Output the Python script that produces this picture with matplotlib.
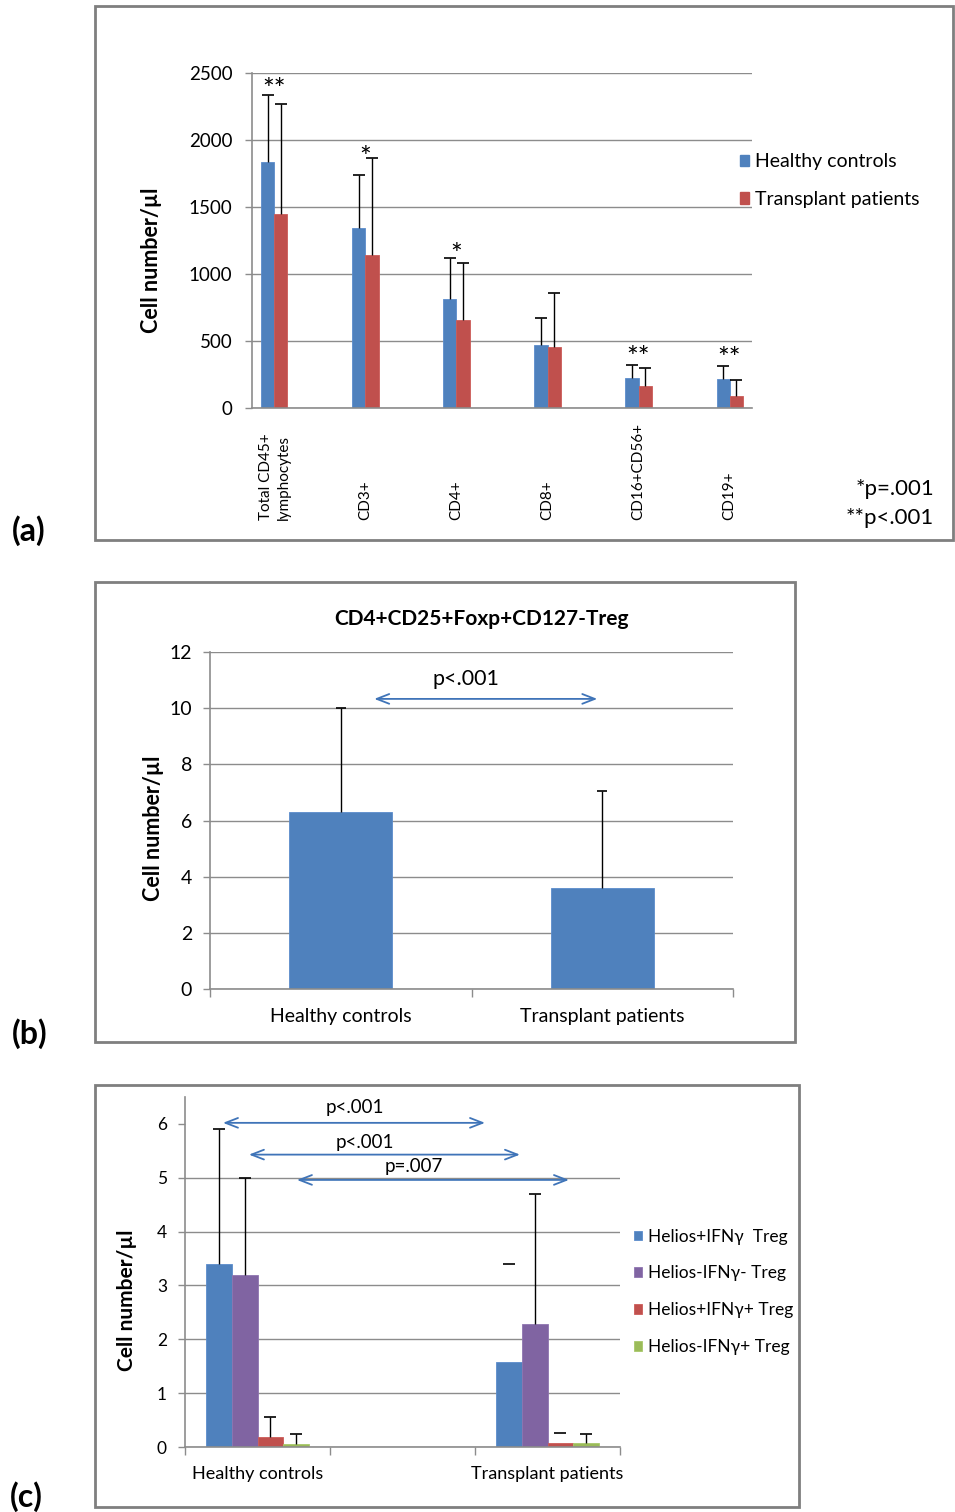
import numpy as np
import matplotlib.pyplot as plt
from matplotlib.patches import Rectangle

plt.rcParams['font.family'] = ['Lato', 'Open Sans', 'DejaVu Sans']

W, H = 955, 1512

# ---- panel (a) data
subsets = ['Total CD45+\nlymphocytes', 'CD3+', 'CD4+', 'CD8+', 'CD16+CD56+', 'CD19+']
hc_mean = [1833, 1341, 814, 469, 223, 216]
hc_sd = [501, 399, 303, 206, 97, 97]
tp_mean = [1445, 1144, 660, 454, 161, 92]
tp_sd = [820, 718, 422, 403, 137, 117]
stars = ['**', '*', '*', '', '**', '**']
star_y = [2423, 1910, 1187, 0, 420, 413]

# ---- panel (b) data
groups = ['Healthy controls', 'Transplant patients']
treg_mean = [6.3, 3.6]
treg_sd = [3.7, 3.45]

# ---- panel (c) data
groups_c = ['Healthy controls', '', 'Transplant patients']
series_c = ['Helios+IFN\u03b3  Treg', 'Helios-IFN\u03b3- Treg',
            'Helios+IFN\u03b3+ Treg', 'Helios-IFN\u03b3+ Treg']
vals_c = {
    'Healthy controls': [3.4, 3.2, 0.18, 0.06],
    'Transplant patients': [1.58, 2.29, 0.07, 0.07],
}
err_c = {
    'Healthy controls': [2.5, 1.8, 0.37, 0.19],
    'Transplant patients': [1.81, 2.41, 0.19, 0.18],
}
# error bars where only the cap shows in the original
cap_only = {
    'Healthy controls': [False, False, False, False],
    'Transplant patients': [True, False, True, False],
}
# comparison arrows: (x start, x end, y, label, label x, label y)
arrows_c = [(-0.238, 1.569, 6.02, 'p<.001', 0.672, 6.30),
            (-0.059, 1.81, 5.43, 'p<.001', 0.741, 5.66),
            (0.272, 2.148, 4.96, 'p=.007', 1.079, 5.21)]

BLUE = '#4F81BD'
RED = '#C0504D'
PURPLE = '#8064A2'
GREEN = '#9BBB59'
GRID = '#8c8c8c'
ARROW = '#3F74B8'


def fx(x):
    return x / W


def fy(y):
    return 1 - y / H


def style_axes(ax):
    for s in ['top', 'right']:
        ax.spines[s].set_visible(False)
    for s in ['left', 'bottom']:
        ax.spines[s].set_color(GRID)
        ax.spines[s].set_linewidth(1.2)
    ax.set_axisbelow(True)
    ax.yaxis.grid(True, color=GRID, linewidth=1.0)
    ax.tick_params(axis='y', colors=GRID, length=5, width=1, labelcolor='black')


def up_err(ax, xs, ys, errs, capsize, line=True):
    # upper-only error bar: stem plus a cap at the top end
    xs, ys, errs = np.atleast_1d(xs), np.atleast_1d(ys), np.atleast_1d(errs)
    if line:
        ax.vlines(xs, ys, ys + errs, color='black', linewidth=1, zorder=3)
    ax.plot(xs, ys + errs, ls='none', marker='_', markersize=capsize,
            markeredgewidth=1.2, color='black', zorder=3)


fig = plt.figure(figsize=(W / 100, H / 100), dpi=100)

# panel frames
for (x0, y0, x1, y1) in [(95, 6, 953, 540), (95, 582, 795, 1042), (95, 1085, 799, 1507)]:
    fig.patches.append(Rectangle((fx(x0), fy(y1)), fx(x1 - x0), (y1 - y0) / H,
                                 transform=fig.transFigure, fill=False,
                                 edgecolor='#7f7f7f', linewidth=2))

# ================= (a)
ax = fig.add_axes([fx(252), fy(408), 500 / W, 335 / H])
style_axes(ax)
x = np.arange(len(subsets))
w = 0.143
ax.bar(x - w / 2, hc_mean, w, color=BLUE, edgecolor='#5b8ccc', linewidth=0.6)
ax.bar(x + w / 2, tp_mean, w, color=RED, edgecolor='#cc5b58', linewidth=0.6)
up_err(ax, x - w / 2, np.array(hc_mean), np.array(hc_sd), 9)
up_err(ax, x + w / 2, np.array(tp_mean), np.array(tp_sd), 9)
for i, s in enumerate(stars):
    if s:
        # Lato's asterisk sits high, so anchor on the baseline and drop it
        ax.annotate(s, (i, star_y[i]), xytext=(0, -11), textcoords='offset points',
                    ha='center', va='baseline', fontsize=20)
ax.set_xlim(-0.247, 5.247)
ax.set_ylim(0, 2500)
ax.set_yticks(np.arange(0, 2501, 500))
ax.tick_params(axis='y', labelsize=13.5, pad=9)
ax.set_xticks(x)
ax.set_xticklabels(subsets, rotation=90, va='bottom', ha='center', fontsize=11,
                   linespacing=1.35)
ax.tick_params(axis='x', length=0, pad=81)
fig.text(fx(152), fy(260), 'Cell number/\u00b5l', rotation=90, ha='center', va='center',
         fontsize=15.5, fontweight='bold')
leg_a = [Rectangle((0, 0), 1, 1, color=BLUE), Rectangle((0, 0), 1, 1, color=RED)]
fig.legend(leg_a, ['Healthy controls', 'Transplant patients'], loc='upper left',
           bbox_to_anchor=(fx(722), fy(136)), frameon=False, fontsize=14,
           handlelength=0.5, handleheight=0.5, handletextpad=0.3, labelspacing=1.05)
fig.text(fx(934), fy(489), '*p=.001', ha='right', va='center', fontsize=16)
fig.text(fx(934), fy(518), '**p<.001', ha='right', va='center', fontsize=16)
fig.text(fx(12), fy(531), '(a)', ha='left', va='center', fontsize=23, fontweight='bold')

# ================= (b)
ax = fig.add_axes([fx(210), fy(989), 523 / W, 337 / H])
style_axes(ax)
xb = np.arange(len(groups))
ax.bar(xb, treg_mean, 0.394, color=BLUE, edgecolor='#5b8ccc', linewidth=0.6)
up_err(ax, xb, np.array(treg_mean), np.array(treg_sd), 7)
ax.set_xlim(-0.5, 1.5)
ax.set_ylim(0, 12)
ax.set_yticks(np.arange(0, 13, 2))
ax.tick_params(axis='y', labelsize=14, pad=8)
ax.set_xticks(xb)
ax.set_xticklabels(groups, fontsize=14)
ax.tick_params(axis='x', length=0, pad=14)
ax.set_xticks([-0.5, 0.5, 1.5], minor=True)
ax.tick_params(axis='x', which='minor', length=6, color=GRID, width=1)
ax.annotate('', xy=(0.981, 10.33), xytext=(0.128, 10.33),
            arrowprops=dict(arrowstyle='<->,head_length=0.9,head_width=0.35',
                            color=ARROW, lw=1.3, shrinkA=0, shrinkB=0))
ax.text(0.48, 11.05, 'p<.001', ha='center', va='center', fontsize=15.5)
fig.text(fx(481), fy(619), 'CD4+CD25+Foxp+CD127-Treg', ha='center', va='center',
         fontsize=15, fontweight='bold')
fig.text(fx(153), fy(828), 'Cell number/\u00b5l', rotation=90, ha='center', va='center',
         fontsize=15.5, fontweight='bold')
fig.text(fx(12), fy(1034), '(b)', ha='left', va='center', fontsize=23, fontweight='bold')

# ================= (c)
ax = fig.add_axes([fx(185), fy(1447), 435 / W, 350 / H])
style_axes(ax)
colors_c = [BLUE, PURPLE, RED, GREEN]
edges_c = ['#5b8ccc', '#8f75b0', '#cc5b58', '#a8c86a']
wc = 0.179
offs = (np.arange(4) - 1.5) * wc
for gi, g in enumerate(groups_c):
    if g not in vals_c:
        continue
    for si in range(4):
        xpos = gi + offs[si]
        ax.bar(xpos, vals_c[g][si], wc, color=colors_c[si], edgecolor=edges_c[si],
               linewidth=0.6, label=series_c[si] if gi == 0 else None)
        up_err(ax, xpos, vals_c[g][si], err_c[g][si], 8, line=not cap_only[g][si])
for (xa, xb_, ya, lab, lx, ly) in arrows_c:
    ax.annotate('', xy=(xb_, ya), xytext=(xa, ya),
                arrowprops=dict(arrowstyle='<->,head_length=0.9,head_width=0.35',
                                color=ARROW, lw=1.3, shrinkA=0, shrinkB=0))
    ax.text(lx, ly, lab, ha='center', va='center', fontsize=13.5)
ax.set_xlim(-0.5, 2.5)
ax.set_ylim(0, 6.5)
ax.set_yticks(np.arange(0, 7, 1))
ax.get_ygridlines()[-1].set_visible(False)
ax.tick_params(axis='y', labelsize=12.5, pad=8)
ax.set_xticks(np.arange(3))
ax.set_xticklabels(groups_c, fontsize=13)
ax.tick_params(axis='x', length=0, pad=14)
ax.set_xticks([-0.5, 0.5, 1.5, 2.5], minor=True)
ax.tick_params(axis='x', which='minor', length=6, color=GRID, width=1)
fig.legend(loc='upper left', bbox_to_anchor=(fx(618), fy(1213)), frameon=False,
           fontsize=12.5, handlelength=0.5, handleheight=0.5, handletextpad=0.3,
           labelspacing=1.2)
fig.text(fx(127), fy(1300), 'Cell number/\u00b5l', rotation=90, ha='center', va='center',
         fontsize=15, fontweight='bold')
fig.text(fx(10), fy(1497), '(c)', ha='left', va='center', fontsize=23, fontweight='bold')

fig.savefig('out.png', dpi=100)
